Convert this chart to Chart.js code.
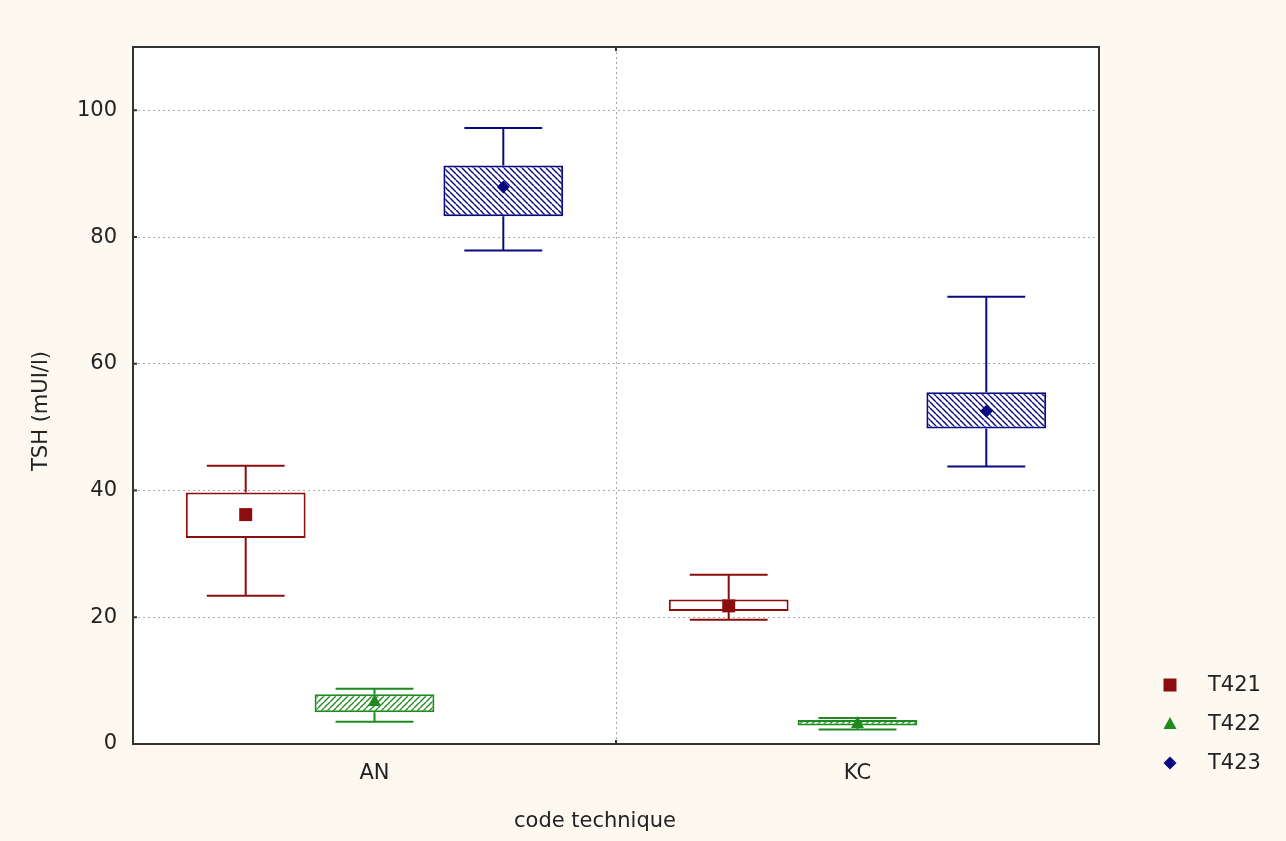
<!DOCTYPE html>
<html>
<head>
<meta charset="utf-8">
<script src="https://cdn.jsdelivr.net/npm/chart.js@4/dist/chart.umd.min.js"></script>
<style>
  html, body { margin: 0; padding: 0; background: #fdf9f1; }
  #wrap { width: 1286px; height: 841px; position: relative; }
</style>
</head>
<body>
<div id="wrap"><canvas id="c" width="1286" height="841"></canvas></div>
<script>
// ---- data ----
const categories = ['AN', 'KC'];
const seriesNames = ['T421', 'T422', 'T423'];
const yTicks = [0, 20, 40, 60, 80, 100];

const t421Mean      = [36.2, 21.8];
const t421BoxLow    = [32.5, 21.0];
const t421BoxHigh   = [39.7, 22.8];
const t421WhiskLow  = [23.4, 19.6];
const t421WhiskHigh = [43.9, 26.7];

const t422Mean      = [6.8, 3.3];
const t422BoxLow    = [5.0, 2.9];
const t422BoxHigh   = [7.85, 3.8];
const t422WhiskLow  = [3.5, 2.3];
const t422WhiskHigh = [8.7, 4.1];

const t423Mean      = [87.9, 52.5];
const t423BoxLow    = [83.3, 49.8];
const t423BoxHigh   = [91.3, 55.5];
const t423WhiskLow  = [77.9, 43.8];
const t423WhiskHigh = [97.2, 70.6];

const xTitle = 'code technique';
const yTitle = 'TSH (mUI/l)';

// ---- styling ----
const FONT = "'DejaVu Sans', sans-serif";
const colors = ['#8b0d0d', '#1f8a1f', '#0a0a80'];
const markerStyles = ['square', 'triangle', 'diamond'];

function hatch(color, dir) {
  const s = 6;
  const c = document.createElement('canvas');
  c.width = s; c.height = s;
  const g = c.getContext('2d');
  g.fillStyle = '#ffffff';
  g.fillRect(0, 0, s, s);
  g.strokeStyle = color;
  g.lineWidth = 1.4;
  g.beginPath();
  for (let k = -1; k <= 1; k++) {
    if (dir === '/') {
      g.moveTo(k * s, s); g.lineTo(k * s + s, 0);
    } else {
      g.moveTo(k * s, 0); g.lineTo(k * s + s, s);
    }
  }
  g.stroke();
  return document.getElementById('c').getContext('2d').createPattern(c, 'repeat');
}
const fills = ['#ffffff', hatch(colors[1], '/'), hatch(colors[2], '\\')];

const means = [t421Mean, t422Mean, t423Mean];
const boxLow = [t421BoxLow, t422BoxLow, t423BoxLow];
const boxHigh = [t421BoxHigh, t422BoxHigh, t423BoxHigh];
const whiskLow = [t421WhiskLow, t422WhiskLow, t423WhiskLow];
const whiskHigh = [t421WhiskHigh, t422WhiskHigh, t423WhiskHigh];

function drawMarker(ctx, style, x, y, color) {
  ctx.save();
  ctx.fillStyle = color;
  ctx.beginPath();
  if (style === 'square') {
    ctx.rect(x - 6.5, y - 6.5, 13, 13);
  } else if (style === 'triangle') {
    ctx.moveTo(x, y - 7); ctx.lineTo(x + 6.5, y + 5); ctx.lineTo(x - 6.5, y + 5); ctx.closePath();
  } else {
    ctx.moveTo(x, y - 6.5); ctx.lineTo(x + 6.5, y); ctx.lineTo(x, y + 6.5); ctx.lineTo(x - 6.5, y); ctx.closePath();
  }
  ctx.fill();
  ctx.restore();
}

const plotBg = {
  id: 'plotBg',
  beforeDraw(chart) {
    const { ctx, chartArea: a } = chart;
    ctx.save();
    ctx.fillStyle = '#fdf9f1';
    ctx.fillRect(0, 0, chart.width, chart.height);
    ctx.fillStyle = '#ffffff';
    ctx.fillRect(a.left, a.top, a.right - a.left, a.bottom - a.top);
    ctx.restore();
  }
};

const boxPlot = {
  id: 'boxPlot',
  afterDatasetsDraw(chart) {
    const { ctx } = chart;
    const y = chart.scales.y;
    chart.data.datasets.forEach((ds, k) => {
      const meta = chart.getDatasetMeta(k);
      meta.data.forEach((bar, i) => {
        const x = bar.x;
        const half = bar.width * 0.65 / 2;
        const yBH = y.getPixelForValue(boxHigh[k][i]);
        const yBL = y.getPixelForValue(boxLow[k][i]);
        const yWH = y.getPixelForValue(whiskHigh[k][i]);
        const yWL = y.getPixelForValue(whiskLow[k][i]);
        ctx.save();
        ctx.strokeStyle = colors[k];
        ctx.lineWidth = 2;
        ctx.beginPath();
        ctx.moveTo(x, yBH); ctx.lineTo(x, yWH);
        ctx.moveTo(x - half, yWH); ctx.lineTo(x + half, yWH);
        ctx.moveTo(x, yBL); ctx.lineTo(x, yWL);
        ctx.moveTo(x - half, yWL); ctx.lineTo(x + half, yWL);
        ctx.stroke();
        ctx.restore();
        drawMarker(ctx, markerStyles[k], x, y.getPixelForValue(means[k][i]), colors[k]);
      });
    });
  }
};

const frame = {
  id: 'frame',
  afterDraw(chart) {
    const { ctx, chartArea: a } = chart;
    const y = chart.scales.y;
    const xs = chart.scales.x;
    ctx.save();
    ctx.strokeStyle = '#333333';
    ctx.lineWidth = 2;
    ctx.strokeRect(a.left, a.top, a.right - a.left, a.bottom - a.top);
    // inward ticks
    ctx.beginPath();
    yTicks.forEach(v => {
      const py = y.getPixelForValue(v);
      ctx.moveTo(a.left, py); ctx.lineTo(a.left + 4, py);
    });
    const mid = (xs.getPixelForValue(0) + xs.getPixelForValue(1)) / 2;
    ctx.moveTo(mid, a.top); ctx.lineTo(mid, a.top + 4);
    ctx.moveTo(mid, a.bottom); ctx.lineTo(mid, a.bottom - 4);
    ctx.stroke();

    // axis titles
    ctx.fillStyle = '#222222';
    ctx.font = '21px ' + FONT;
    ctx.textAlign = 'center';
    ctx.textBaseline = 'middle';
    ctx.fillText(xTitle, 595, 822);
    ctx.save();
    ctx.translate(42, 411);
    ctx.rotate(-Math.PI / 2);
    ctx.fillText(yTitle, 0, 0);
    ctx.restore();

    // legend
    ctx.textAlign = 'left';
    const ly = [685, 724, 763];
    seriesNames.forEach((n, k) => {
      drawMarker(ctx, markerStyles[k], 1170, ly[k], colors[k]);
      ctx.fillStyle = '#222222';
      ctx.fillText(n, 1208, ly[k] + 1);
    });
    ctx.restore();
  }
};

new Chart(document.getElementById('c'), {
  type: 'bar',
  data: {
    labels: categories,
    datasets: seriesNames.map((n, k) => ({
      label: n,
      data: categories.map((c, i) => [boxLow[k][i], boxHigh[k][i]]),
      backgroundColor: fills[k],
      borderColor: colors[k],
      borderWidth: 2,
      borderSkipped: false,
      categoryPercentage: 0.8,
      barPercentage: 0.93
    }))
  },
  options: {
    responsive: false,
    animation: false,
    devicePixelRatio: 1,
    layout: { padding: { left: 0, right: 187, top: 47, bottom: 0 } },
    plugins: { legend: { display: false }, tooltip: { enabled: false } },
    scales: {
      x: {
        grid: { offset: true, color: '#a8a8a8', lineWidth: 1, drawTicks: false },
        border: { display: false, dash: [2, 3] },
        ticks: { font: { family: FONT, size: 21 }, color: '#222222', padding: 17 },
        afterFit(s) { s.height = 97; }
      },
      y: {
        min: 0, max: 110,
        afterBuildTicks(s) { s.ticks = yTicks.map(v => ({ value: v })); },
        grid: { color: '#a8a8a8', lineWidth: 1, drawTicks: false },
        border: { display: false, dash: [2, 3] },
        ticks: { font: { family: FONT, size: 21 }, color: '#222222', padding: 16 },
        afterFit(s) { s.width = 133; }
      }
    }
  },
  plugins: [plotBg, boxPlot, frame]
});
</script>
</body>
</html>
